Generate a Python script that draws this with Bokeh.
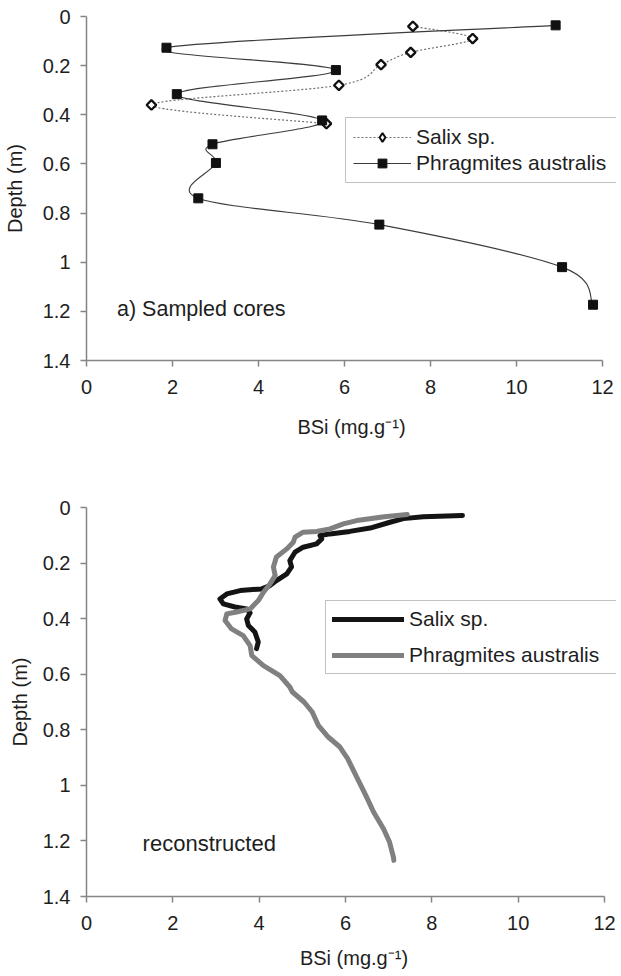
import math
from bokeh.plotting import figure
from bokeh.layouts import column
from bokeh.models import (Range1d, FixedTicker, NumeralTickFormatter, Legend,
                          LegendItem, Label, ColumnDataSource)
from bokeh.embed import file_html
from bokeh.resources import INLINE

# ---------------- data ----------------
# a) sampled cores
salix_x = [7.59, 8.98, 7.54, 6.85, 5.87, 1.51, 5.58]
salix_y = [0.040, 0.090, 0.146, 0.196, 0.280, 0.360, 0.436]

phrag_x = [10.91, 1.86, 5.80, 2.10, 5.48, 2.93, 3.01, 2.60, 6.81, 11.06, 11.78]
phrag_y = [0.036, 0.127, 0.218, 0.316, 0.423, 0.520, 0.596, 0.740, 0.847, 1.020, 1.173]

# reconstructed
salix_r_x = [8.71, 7.80, 7.34, 7.03, 6.57, 6.10, 5.64, 5.41, 5.45, 5.33, 5.02, 4.83,
             4.71, 4.75, 4.64, 4.40, 4.25, 4.06, 3.56, 3.25, 3.09, 3.17, 3.44, 3.71,
             3.79, 3.71, 3.75, 3.90, 3.98, 3.94]
salix_r_y = [0.029, 0.033, 0.040, 0.053, 0.074, 0.086, 0.095, 0.101, 0.113, 0.131,
             0.143, 0.161, 0.191, 0.214, 0.239, 0.263, 0.281, 0.293, 0.299, 0.311,
             0.329, 0.347, 0.358, 0.365, 0.379, 0.401, 0.425, 0.448, 0.484, 0.508]

phrag_r_x = [7.43, 6.90, 6.26, 5.95, 5.64, 5.33, 5.02, 4.83, 4.79, 4.64, 4.40, 4.33,
             4.37, 4.25, 4.10, 3.98, 3.79, 3.48, 3.25, 3.21, 3.36, 3.63, 3.79, 3.83,
             4.10, 4.48, 4.71, 4.77, 5.04, 5.23, 5.37, 5.60, 5.87, 6.05, 6.24, 6.47,
             6.65, 6.88, 7.02, 7.11, 7.12]
phrag_r_y = [0.025, 0.033, 0.047, 0.059, 0.077, 0.086, 0.089, 0.107, 0.125, 0.149,
             0.178, 0.214, 0.245, 0.275, 0.305, 0.335, 0.365, 0.376, 0.383, 0.407,
             0.437, 0.461, 0.497, 0.533, 0.569, 0.605, 0.646, 0.664, 0.700, 0.736,
             0.784, 0.826, 0.862, 0.904, 0.964, 1.036, 1.096, 1.156, 1.204, 1.258,
             1.270]

x_ticks = [0, 2, 4, 6, 8, 10, 12]
y_ticks = [0, 0.2, 0.4, 0.6, 0.8, 1, 1.2, 1.4]

FONT = "Liberation Sans"
TXT = "#1e1e1e"
AXC = "#858585"


def smooth_segments(xs, ys):
    """Catmull-Rom -> cubic Bezier control points (Excel-like smoothed line)."""
    n = len(xs)
    d = dict(x0=[], y0=[], x1=[], y1=[], cx0=[], cy0=[], cx1=[], cy1=[])
    for i in range(n - 1):
        xm, ym = (xs[i - 1], ys[i - 1]) if i > 0 else (xs[i], ys[i])
        xp, yp = (xs[i + 2], ys[i + 2]) if i + 2 < n else (xs[i + 1], ys[i + 1])
        d["x0"].append(xs[i]); d["y0"].append(ys[i])
        d["x1"].append(xs[i + 1]); d["y1"].append(ys[i + 1])
        d["cx0"].append(xs[i] + (xs[i + 1] - xm) / 6.0)
        d["cy0"].append(ys[i] + (ys[i + 1] - ym) / 6.0)
        d["cx1"].append(xs[i + 1] - (xp - xs[i]) / 6.0)
        d["cy1"].append(ys[i + 1] - (yp - ys[i]) / 6.0)
    return ColumnDataSource(d)


def make_fig(frame_w, frame_h, x_end, bl, bt, bb, ylabel_standoff, xlabel_standoff):
    p = figure(output_backend="svg", toolbar_location=None,
               frame_width=frame_w, frame_height=frame_h,
               min_border_left=bl, min_border_top=bt, min_border_bottom=bb,
               min_border_right=0,
               x_range=Range1d(0, x_end), y_range=Range1d(1.4, 0))
    p.outline_line_color = None
    p.grid.visible = False
    p.background_fill_color = "white"
    p.border_fill_color = "white"
    for ax in (p.xaxis[0], p.yaxis[0]):
        ax.axis_line_color = AXC
        ax.axis_line_width = 1.5
        ax.major_tick_line_color = AXC
        ax.major_tick_line_width = 1.5
        ax.major_tick_out = 6
        ax.major_tick_in = 0
        ax.minor_tick_line_color = None
        ax.major_label_text_font = FONT
        ax.major_label_text_font_size = "20px"
        ax.major_label_text_color = TXT
        ax.axis_label_text_font = FONT
        ax.axis_label_text_font_size = "20px"
        ax.axis_label_text_font_style = "normal"
        ax.axis_label_text_color = TXT
    p.xaxis.bounds = (0, 12)
    p.xaxis.ticker = FixedTicker(ticks=x_ticks)
    p.yaxis.ticker = FixedTicker(ticks=y_ticks)
    p.yaxis.formatter = NumeralTickFormatter(format="0.[0]")
    p.xaxis.major_label_standoff = 13
    p.yaxis.major_label_standoff = 10
    p.xaxis.axis_label_standoff = xlabel_standoff
    p.yaxis.axis_label_standoff = ylabel_standoff
    p.xaxis.axis_label = "BSi (mg.g\u207b\u00b9)"
    p.yaxis.axis_label = "Depth (m)"
    return p


# ---------------- top chart ----------------
# 516 px of frame for 0..12, frame extended to the window edge so the legend fits
p1 = make_fig(530, 344, 12 * 530 / 516, 83, 16, 90, 14, 19)

s_bez = p1.bezier(x0="x0", y0="y0", x1="x1", y1="y1", cx0="cx0", cy0="cy0",
                  cx1="cx1", cy1="cy1", source=smooth_segments(salix_x, salix_y),
                  line_color="#707070", line_width=1.2, line_dash="2 2")
p_bez = p1.bezier(x0="x0", y0="y0", x1="x1", y1="y1", cx0="cx0", cy0="cy0",
                  cx1="cx1", cy1="cy1", source=smooth_segments(phrag_x, phrag_y),
                  line_color="#3c3c3c", line_width=1.1)
# diamond key (hidden under the rotated squares, used by the legend)
s_key = p1.scatter(salix_x, salix_y, marker="diamond", size=8,
                   fill_color="white", line_color="#111111", line_width=2.0)
s_sc = p1.scatter(salix_x, salix_y, marker="square", angle=math.pi / 4, size=6.8,
                  fill_color="white", line_color="#111111", line_width=2.3)
p_sc = p1.scatter(phrag_x, phrag_y, marker="square", size=9,
                  fill_color="#111111", line_color="#111111")

leg1 = Legend(items=[LegendItem(label="Salix sp.", renderers=[s_bez, s_key]),
                     LegendItem(label="Phragmites australis", renderers=[p_bez, p_sc])],
              location=(259, 177), glyph_width=58, glyph_height=22,
              label_height=22, label_width=198, spacing=2, padding=7, margin=0,
              label_standoff=5,
              label_text_font=FONT, label_text_font_size="21px",
              label_text_color=TXT, border_line_color=AXC,
              border_line_width=1.2, background_fill_alpha=1)
p1.add_layout(leg1, "center")
p1.add_layout(Label(x=0.71, y=1.19, text="a) Sampled cores", text_font=FONT,
                    text_font_size="21.5px", text_color=TXT,
                    text_baseline="middle"))

# ---------------- bottom chart ----------------
p2 = make_fig(535, 389, 12 * 535 / 518, 78, 57, 82, 9, 14)

s_line = p2.line(salix_r_x, salix_r_y, line_color="#141414", line_width=5,
                 line_join="round", line_cap="round")
p_line = p2.line(phrag_r_x, phrag_r_y, line_color="#808080", line_width=5,
                 line_join="round", line_cap="round")

leg2 = Legend(items=[LegendItem(label="Salix sp.", renderers=[s_line]),
                     LegendItem(label="Phragmites australis", renderers=[p_line])],
              location=(244, 222), glyph_width=72, glyph_height=22,
              label_height=22, label_width=205, spacing=12, padding=6, margin=0,
              label_standoff=5,
              label_text_font=FONT, label_text_font_size="21px",
              label_text_color=TXT, border_line_color=AXC,
              border_line_width=1.2, background_fill_alpha=1)
p2.add_layout(leg2, "center")
p2.add_layout(Label(x=1.30, y=1.21, text="reconstructed", text_font=FONT,
                    text_font_size="22px", text_color=TXT,
                    text_baseline="middle"))

layout = column(p1, p2, spacing=0)
open("out.html", "w").write(file_html(layout, INLINE))
